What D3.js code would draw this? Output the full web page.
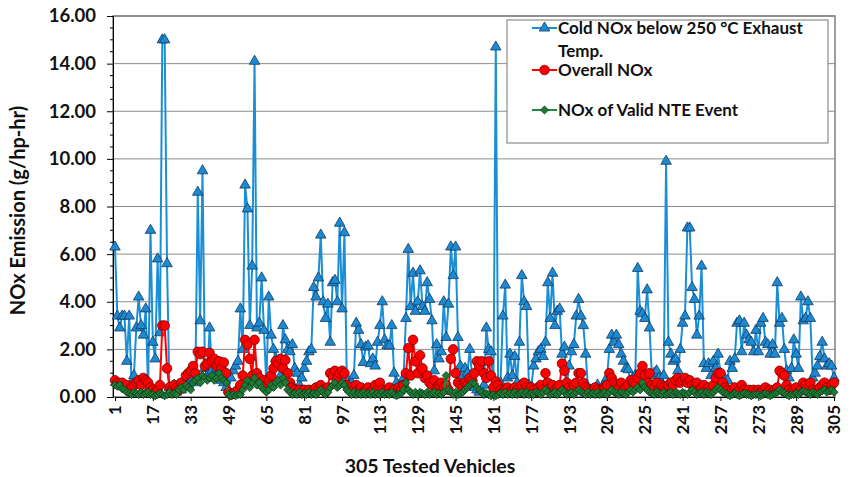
<!DOCTYPE html>
<html>
<head>
<meta charset="utf-8">
<script src="https://cdn.jsdelivr.net/npm/d3@7/dist/d3.min.js"></script>
<style>
  body { margin: 0; background: #fff; }
  svg text { font-family: Lato, "Open Sans", sans-serif; font-weight: bold; fill: #111; }
</style>
</head>
<body>
<script>
// Cold NOx below 250 C exhaust temp (vehicles 1..305), rows of 16
const coldNOx = [
  6.3, 3.4, 2.9, 3.4, 3.4, 1.5, 3.4, 0.6, 0.9, 2.9, 4.2, 3.0, 2.6, 3.7, 0.3, 7.0,
  2.3, 1.6, 5.8, 2.7, 15.0, 15.0, 5.6, 0.4, 0.3, 0.5, 0.2, 0.4, 0.3, 0.6, 0.4, 0.5,
  0.8, 0.6, 1.0, 8.6, 3.2, 9.5, 1.2, 0.9, 2.9, 1.1, 0.8, 1.2, 0.9, 0.7, 0.6, 0.4,
  0.3, 0.8, 1.1, 1.3, 1.5, 3.7, 2.0, 8.9, 7.9, 3.0, 5.5, 14.1, 2.9, 3.1, 5.0, 2.8,
  0.5, 4.2, 2.6, 2.0, 1.6, 1.3, 0.9, 3.0, 2.4, 2.0, 1.9, 2.2, 1.2, 1.0, 0.5, 0.8,
  1.2, 1.5, 1.9, 2.0, 4.6, 4.2, 5.0, 6.8, 4.0, 3.3, 3.9, 2.3, 4.8, 4.9, 4.0, 7.3,
  3.7, 6.9, 0.8, 0.5, 0.6, 0.9, 3.1, 2.8, 2.2, 1.45, 2.1, 2.15, 1.4, 1.6, 1.3, 2.3,
  3.0, 4.0, 2.4, 2.15, 2.15, 3.0, 1.0, 0.6, 0.4, 0.5, 0.8, 3.3, 6.2, 3.8, 5.2, 3.6,
  4.0, 5.3, 3.8, 3.6, 4.8, 4.1, 3.2, 1.1, 2.2, 1.6, 1.9, 4.0, 2.5, 3.9, 6.3, 5.1,
  6.3, 2.5, 1.3, 0.9, 1.2, 1.0, 2.0, 0.8, 0.4, 0.3, 0.2, 0.3, 0.5, 2.9, 2.0, 1.9,
  0.3, 14.7, 0.4, 0.6, 3.4, 4.7, 0.8, 1.8, 0.9, 1.7, 0.6, 2.3, 5.1, 4.0, 3.8, 0.5,
  0.4, 1.3, 1.6, 1.9, 2.0, 1.7, 2.3, 4.8, 3.3, 5.2, 3.0, 3.6, 3.7, 1.8, 2.1, 0.5,
  1.3, 1.9, 2.2, 3.4, 4.1, 3.4, 3.0, 1.8, 0.4, 0.3, 0.2, 0.3, 0.5, 0.3, 0.4, 0.6,
  0.8, 2.0, 2.6, 2.3, 2.6, 2.2, 1.8, 1.5, 1.2, 1.15, 0.6, 0.8, 0.9, 5.4, 3.6, 3.5,
  3.3, 4.5, 2.9, 0.9, 1.0, 1.1, 0.8, 0.6, 0.9, 9.9, 2.3, 1.8, 1.5, 1.6, 1.1, 2.0,
  3.1, 3.4, 7.1, 7.1, 4.6, 4.1, 2.6, 3.4, 5.5, 1.4, 1.2, 1.4, 0.9, 1.5, 1.2, 1.8,
  1.0, 0.9, 0.5, 0.7, 1.5, 1.2, 1.6, 3.1, 3.2, 1.9, 3.1, 2.6, 2.4, 2.3, 1.9, 2.8,
  1.9, 3.1, 3.3, 2.3, 2.2, 1.8, 2.2, 1.8, 4.8, 3.1, 3.3, 2.0, 1.1, 0.8, 1.2, 2.4,
  1.8, 1.2, 4.2, 3.2, 3.3, 4.0, 3.3, 0.8, 1.0, 1.3, 1.7, 2.3, 1.6, 1.3, 1.4, 1.3, 0.8
];

// Overall NOx
const overallNOx = [
  0.7, 0.6, 0.5, 0.6, 0.4, 0.5, 0.3, 0.4, 0.5, 0.6, 0.7, 0.5, 0.8, 0.7, 0.6, 0.4,
  0.3, 0.2, 0.3, 0.5, 3.0, 3.0, 1.2, 0.4, 0.3, 0.5, 0.4, 0.3, 0.6, 0.5, 0.9, 1.0,
  1.1, 1.3, 1.0, 1.9, 1.8, 1.9, 1.3, 1.4, 1.85, 1.5, 1.6, 1.3, 1.5, 1.2, 1.45, 1.0,
  0.2, 0.1, 0.15, 0.2, 0.3, 0.5, 0.9, 2.4, 2.2, 1.6, 0.9, 2.4, 1.0, 0.8, 0.6, 0.7,
  0.5, 0.7, 0.9, 1.2, 1.5, 1.4, 1.6, 1.2, 1.55, 1.0, 0.6, 0.4, 0.3, 0.2, 0.3, 0.2,
  0.3, 0.2, 0.3, 0.2, 0.3, 0.4, 0.3, 0.5, 0.3, 0.2, 0.4, 1.0, 0.9, 1.1, 0.8, 1.0,
  1.1, 1.0, 0.5, 0.3, 0.4, 0.3, 0.5, 0.3, 0.4, 0.2, 0.3, 0.4, 0.2, 0.3, 0.5, 0.3,
  0.6, 0.3, 0.2, 0.3, 0.4, 0.2, 0.3, 0.2, 0.4, 0.3, 0.5, 1.0, 2.05, 0.9, 2.4, 1.5,
  1.0, 1.75, 1.2, 0.8, 0.9, 0.6, 0.5, 0.7, 0.4, 0.5, 0.6, 0.4, 0.5, 0.3, 1.6, 2.0,
  1.0, 0.6, 0.5, 0.4, 0.6, 0.5, 0.8, 0.7, 1.0, 1.5, 1.3, 1.5, 1.0, 0.8, 1.5, 0.9,
  0.4, 0.65, 0.5, 0.3, 0.2, 0.3, 0.4, 0.2, 0.3, 0.4, 0.3, 0.2, 0.5, 0.6, 0.4, 0.3,
  0.4, 0.3, 0.2, 0.4, 0.5, 0.3, 1.0, 0.6, 0.4, 0.5, 0.3, 0.4, 0.5, 1.4, 1.1, 0.6,
  0.4, 0.3, 0.5, 0.6, 1.0, 1.0, 0.6, 0.4, 0.3, 0.2, 0.3, 0.4, 0.3, 0.2, 0.3, 0.4,
  0.5, 1.0, 0.8, 0.6, 0.5, 0.4, 0.6, 0.3, 0.4, 0.5, 0.7, 0.6, 0.5, 0.8, 1.0, 1.3,
  0.9, 0.6, 1.0, 0.5, 0.4, 0.6, 0.3, 0.5, 0.4, 0.3, 0.5, 0.6, 0.5, 0.7, 0.8, 0.6,
  0.7, 0.8, 0.6, 0.7, 0.5, 0.4, 0.6, 0.3, 0.4, 0.5, 0.3, 0.4, 0.3, 0.5, 0.8, 1.0,
  1.0, 0.6, 0.4, 0.3, 0.2, 0.3, 0.4, 0.2, 0.3, 0.5, 0.3, 0.2, 0.3, 0.2, 0.3, 0.2,
  0.3, 0.2, 0.3, 0.4, 0.2, 0.3, 0.2, 0.3, 0.4, 1.1, 1.0, 0.9, 0.5, 0.3, 0.2, 0.3,
  0.4, 0.2, 0.3, 0.6, 0.5, 0.4, 0.6, 0.3, 0.2, 0.3, 0.4, 0.5, 0.6, 0.4, 0.3, 0.5, 0.6
];

// NOx of valid NTE event
const nteNOx = [
  0.5, 0.45, 0.5, 0.35, 0.3, 0.2, 0.15, 0.1, 0.2, 0.15, 0.1, 0.2, 0.1, 0.15, 0.2, 0.1,
  0.1, 0.05, 0.1, 0.15, 0.1, 0.05, 0.1, 0.2, 0.1, 0.15, 0.1, 0.3, 0.4, 0.3, 0.5, 0.4,
  0.3, 0.6, 0.7, 0.8, 0.6, 0.9, 0.8, 0.7, 0.8, 0.9, 0.7, 0.8, 1.0, 0.8, 0.7, 0.6,
  0.1, 0.05, 0.1, 0.05, 0.1, 0.1, 0.3, 0.5, 0.7, 0.4, 0.6, 0.8, 0.5, 0.6, 0.4, 0.3,
  0.2, 0.3, 0.5, 0.4, 0.6, 0.7, 0.5, 0.8, 0.6, 0.3, 0.2, 0.1, 0.15, 0.1, 0.2, 0.1,
  0.15, 0.1, 0.2, 0.1, 0.15, 0.1, 0.2, 0.3, 0.2, 0.1, 0.2, 0.4, 0.5, 0.6, 0.4, 0.5,
  0.6, 0.5, 0.3, 0.2, 0.1, 0.2, 0.1, 0.15, 0.1, 0.2, 0.1, 0.15, 0.1, 0.2, 0.1, 0.15,
  0.1, 0.2, 0.1, 0.15, 0.1, 0.2, 0.1, 0.05, 0.1, 0.15, 0.3, 0.6, 0.3, 0.2, 0.1, 0.2,
  0.1, 0.2, 0.15, 0.1, 0.2, 0.1, 0.15, 0.2, 0.1, 0.15, 0.1, 0.2, 0.9, 0.3, 0.2, 0.1,
  0.2, 0.1, 0.15, 0.2, 0.3, 0.4, 0.5, 0.6, 0.55, 0.4, 0.3, 0.2, 0.1, 0.15, 0.1, 0.05,
  0.1, 0.05, 0.1, 0.15, 0.1, 0.2, 0.1, 0.15, 0.1, 0.2, 0.1, 0.15, 0.2, 0.1, 0.2, 0.1,
  0.15, 0.1, 0.2, 0.15, 0.1, 0.2, 0.3, 0.2, 0.1, 0.15, 0.2, 0.1, 0.2, 0.3, 0.2, 0.1,
  0.15, 0.2, 0.1, 0.2, 0.3, 0.2, 0.15, 0.1, 0.2, 0.1, 0.15, 0.1, 0.2, 0.1, 0.15, 0.2,
  0.1, 0.2, 0.3, 0.2, 0.15, 0.1, 0.2, 0.15, 0.1, 0.2, 0.3, 0.2, 0.3, 0.4, 0.3, 0.6,
  0.4, 0.3, 0.2, 0.15, 0.1, 0.2, 0.15, 0.1, 0.2, 0.1, 0.15, 0.2, 0.1, 0.2, 0.15, 0.1,
  0.2, 0.15, 0.1, 0.2, 0.3, 0.2, 0.1, 0.15, 0.2, 0.1, 0.2, 0.15, 0.1, 0.2, 0.3, 0.4,
  0.3, 0.2, 0.15, 0.1, 0.05, 0.1, 0.15, 0.1, 0.05, 0.1, 0.15, 0.1, 0.1, 0.05, 0.1, 0.1,
  0.1, 0.05, 0.1, 0.15, 0.1, 0.05, 0.1, 0.15, 0.2, 0.3, 0.2, 0.15, 0.1, 0.05, 0.1, 0.1,
  0.15, 0.1, 0.2, 0.25, 0.2, 0.15, 0.1, 0.2, 0.15, 0.1, 0.2, 0.25, 0.3, 0.2, 0.25, 0.3, 0.2
];

const xTickLabels = [1, 17, 33, 49, 65, 81, 97, 113, 129, 145, 161, 177, 193, 209, 225, 241, 257, 273, 289, 305];
const yTickLabels = [0, 2, 4, 6, 8, 10, 12, 14, 16];
const seriesNames = ["Cold NOx below 250 °C Exhaust", "Overall NOx", "NOx of Valid NTE Event"];

const W = 852, H = 477;
const plotLeft = 113, plotRight = 835, plotTop = 16, plotBottom = 397;

const vehicles = coldNOx.map((d, i) => i + 1);

const svg = d3.select("body").append("svg")
  .attr("width", W).attr("height", H);

const x = d3.scalePoint().domain(vehicles).range([plotLeft + 2, plotRight - 1]);
const y = d3.scaleLinear().domain([0, 16]).range([plotBottom, plotTop]);

// grid lines
svg.append("g")
  .selectAll("line")
  .data(yTickLabels.filter(d => d > 0))
  .join("line")
  .attr("x1", plotLeft).attr("x2", plotRight)
  .attr("y1", d => y(d)).attr("y2", d => y(d))
  .attr("stroke", "#8c8c8c").attr("stroke-width", 1);

// plot border
svg.append("rect")
  .attr("x", plotLeft).attr("y", plotTop)
  .attr("width", plotRight - plotLeft).attr("height", plotBottom - plotTop)
  .attr("fill", "none").attr("stroke", "#7f7f7f").attr("stroke-width", 1.5);

// y axis
const yAxis = svg.append("g")
  .attr("transform", `translate(${plotLeft},0)`)
  .call(d3.axisLeft(y).tickValues(yTickLabels).tickFormat(d3.format(".2f")).tickSize(6).tickPadding(11));
yAxis.selectAll("text").style("font-size", "18.5px");
yAxis.select(".domain").attr("stroke", "#000");
// minor ticks
svg.append("g")
  .selectAll("line")
  .data(d3.range(0, 16.01, 0.5).filter(d => d % 2 !== 0))
  .join("line")
  .attr("x1", plotLeft - 3).attr("x2", plotLeft)
  .attr("y1", d => y(d)).attr("y2", d => y(d))
  .attr("stroke", "#000");

// x axis
const xAxis = svg.append("g")
  .attr("transform", `translate(0,${plotBottom})`)
  .call(d3.axisBottom(x).tickValues(xTickLabels).tickSize(4).tickPadding(6));
xAxis.select(".domain").attr("stroke", "#000");
xAxis.selectAll("text")
  .style("font-size", "17px")
  .attr("text-anchor", "end")
  .attr("transform", "rotate(-90)")
  .attr("x", -8).attr("y", 0).attr("dy", "0.35em");

// titles
svg.append("text")
  .attr("transform", `translate(25,${(plotTop + plotBottom) / 2 + 4}) rotate(-90)`)
  .attr("text-anchor", "middle")
  .style("font-size", "20px")
  .text("NOx Emission (g/hp-hr)");
svg.append("text")
  .attr("x", 430).attr("y", 473)
  .attr("text-anchor", "middle")
  .style("font-size", "19.5px")
  .text("305 Tested Vehicles");

// series
const series = [
  { name: seriesNames[0], values: coldNOx, line: "#1b8fd6", fill: "#1c8ad0", stroke: "#123a66", shape: "tri" },
  { name: seriesNames[1], values: overallNOx, line: "#ff0000", fill: "#ff0000", stroke: "#7a0000", shape: "circle" },
  { name: seriesNames[2], values: nteNOx, line: "#1d8a3c", fill: "#1f7a38", stroke: "#0b3d18", shape: "diamond" }
];

const triangle = d3.symbol(d3.symbolTriangle, 48)();
const diamond = d3.symbol(d3.symbolSquare, 32)();

function drawMarker(sel, s) {
  if (s.shape === "circle") {
    sel.append("circle").attr("r", 4.8)
      .attr("fill", s.fill).attr("stroke", s.stroke).attr("stroke-width", 0.8);
  } else if (s.shape === "tri") {
    sel.append("path").attr("d", triangle)
      .attr("fill", s.fill).attr("stroke", s.stroke).attr("stroke-width", 0.8);
  } else {
    sel.append("path").attr("d", diamond).attr("transform", "rotate(45)")
      .attr("fill", s.fill).attr("stroke", s.stroke).attr("stroke-width", 0.8);
  }
}

const line = d3.line().x((d, i) => x(i + 1)).y(d => y(d));

series.forEach(s => {
  const g = svg.append("g");
  g.append("path")
    .attr("d", line(s.values))
    .attr("fill", "none")
    .attr("stroke", s.line)
    .attr("stroke-width", 2);
  g.selectAll("g.m")
    .data(s.values)
    .join("g")
    .attr("class", "m")
    .attr("transform", (d, i) => `translate(${x(i + 1)},${y(d)})`)
    .each(function () { drawMarker(d3.select(this), s); });
});

// legend
const lg = svg.append("g");
lg.append("rect")
  .attr("x", 507).attr("y", 20).attr("width", 321).attr("height", 123)
  .attr("fill", "#fff").attr("stroke", "#8c8c8c").attr("stroke-width", 1.2);
const legendRows = [28, 70, 110];
series.forEach((s, i) => {
  const row = lg.append("g").attr("transform", `translate(0,${legendRows[i]})`);
  row.append("line").attr("x1", 532).attr("x2", 557)
    .attr("stroke", s.line).attr("stroke-width", 2);
  drawMarker(row.append("g").attr("transform", "translate(544.5,0)"), s);
  row.append("text").attr("x", 558).attr("y", 0).attr("dy", "0.35em")
    .style("font-size", "17px").text(s.name);
});
lg.append("text").attr("x", 558).attr("y", 51).attr("dy", "0.35em")
  .style("font-size", "17px").text("Temp.");
</script>
</body>
</html>
